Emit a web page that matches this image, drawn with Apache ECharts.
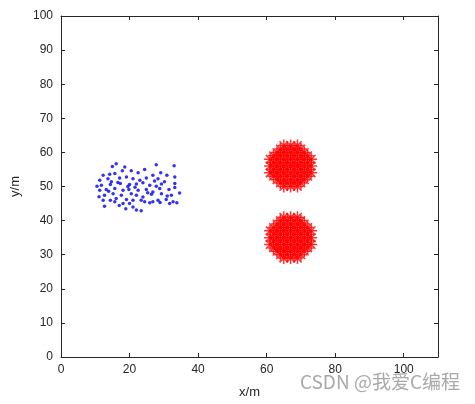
<!DOCTYPE html>
<html>
<head>
<meta charset="utf-8">
<script src="https://cdn.jsdelivr.net/npm/echarts@6/dist/echarts.min.js"></script>
<style>html,body{margin:0;padding:0;background:#fff;}#c{width:475px;height:404px;}</style>
</head>
<body>
<div id="c"></div>
<script>
// Axis settings
const xTicks = [0, 20, 40, 60, 80, 100];
const yTicks = [0, 10, 20, 30, 40, 50, 60, 70, 80, 90, 100];

// Blue points (x, y)
const blueX = [16.1,15.0,18.6,27.8,33.0,12.3,14.2,15.7,17.9,20.5,22.5,24.4,26.8,29.1,30.9,33.2,11.3,13.7,17.1,19.1,21.0,23.0,24.9,28.3,30.2,11.8,14.7,14.4,17.3,20.0,22.0,23.9,25.9,27.8,29.3,33.2,11.3,13.2,15.7,18.1,19.8,22.5,24.9,26.8,28.8,31.5,33.2,12.7,15.2,17.6,20.5,22.0,23.9,26.4,29.3,32.2,34.6,12.3,14.4,16.1,19.1,21.0,23.4,24.4,26.8,28.3,30.7,32.7,15.7,18.1,20.0,12.7,18.9,21.0,22.0,23.4,25.9,31.7,33.8,10.5,11.1,16.6,19.5,25.3,27.3,31.0,13.9,21.6,28.9,17.0];
const blueY = [56.7,55.9,55.7,56.4,56.1,53.3,53.6,53.8,54.6,54.6,54.0,55.0,53.3,54.0,53.3,52.8,51.8,52.3,52.5,52.8,52.3,51.8,52.5,52.3,51.4,50.4,51.4,50.6,50.9,50.6,50.7,51.1,50.4,50.1,50.7,50.9,48.9,49.1,49.4,48.9,49.1,48.9,49.1,48.4,49.4,49.1,49.7,47.4,47.9,47.4,47.9,47.4,46.9,47.7,47.9,47.4,48.1,46.0,46.0,46.5,46.2,46.0,46.0,45.5,45.5,46.0,46.2,45.5,45.5,45.0,45.0,44.2,43.5,44.0,43.1,42.9,45.2,45.0,45.2,50.1,47.0,51.2,50.0,48.2,51.6,47.2,48.6,49.8,45.3,44.4];

// Red cluster A (upper) points
const redAX = [61,61,61,63,63,63,63,63,65,65,65,65,65,65,65,67,67,67,67,67,67,67,69,69,69,69,69,69,69,71,71,71,71,71,73,73,73,
  62,62,62,62,64,64,64,64,64,64,66,66,66,66,66,66,68,68,68,68,68,68,70,70,70,70,70,70,72,72,72,72];
const redAY = [54,56,58,52,54,56,58,60,50,52,54,56,58,60,62,50,52,54,56,58,60,62,50,52,54,56,58,60,62,52,54,56,58,60,54,56,58,
  53,55,57,59,51,53,55,57,59,61,51,53,55,57,59,61,51,53,55,57,59,61,51,53,55,57,59,61,53,55,57,59];
// Red cluster B (lower) points
const redBX = [61,61,61,63,63,63,63,63,65,65,65,65,65,65,65,67,67,67,67,67,67,67,69,69,69,69,69,69,69,71,71,71,71,71,73,73,73,
  62,62,62,62,64,64,64,64,64,64,66,66,66,66,66,66,68,68,68,68,68,68,70,70,70,70,70,70,72,72,72,72];
const redBY = [33,35,37,31,33,35,37,39,29,31,33,35,37,39,41,29,31,33,35,37,39,41,29,31,33,35,37,39,41,31,33,35,37,39,33,35,37,
  32,34,36,38,30,32,34,36,38,40,30,32,34,36,38,40,30,32,34,36,38,40,30,32,34,36,38,40,32,34,36,38];

const zip = (a, b) => a.map((v, i) => [v, b[i]]);
const star = 'path://M0,-10L0,10M-10,0L10,0M-7.07,-7.07L7.07,7.07M-7.07,7.07L7.07,-7.07';
const font = 'Liberation Sans, Arial, Helvetica, sans-serif';
const axisCommon = {
  min: 0,
  axisLine: { show: true, onZero: false, lineStyle: { color: '#262626', width: 1 } },
  axisTick: { show: true, inside: true, length: 4, lineStyle: { color: '#262626', width: 1 } },
  splitLine: { show: false }
};
const redStyle = { color: 'rgba(0,0,0,0)', borderColor: '#ff0000', borderWidth: 1.5 };
const chart = echarts.init(document.getElementById('c'), null, { renderer: 'canvas' });
chart.setOption({
  animation: false,
  backgroundColor: '#ffffff',
  grid: { left: 61, right: 37, top: 16, bottom: 47 },
  xAxis: [
    Object.assign({}, axisCommon, {
      type: 'value', position: 'bottom', max: 110, interval: 20,
      name: 'x/m', nameLocation: 'middle', nameGap: 29,
      nameTextStyle: { color: '#262626', fontSize: 13, fontFamily: font },
      axisLabel: { color: '#262626', fontSize: 12, fontFamily: font, margin: 7,
        formatter: v => xTicks.indexOf(v) >= 0 ? String(v) : '' }
    }),
    Object.assign({}, axisCommon, {
      type: 'value', position: 'top', max: 110, interval: 20,
      axisLabel: { show: false }
    })
  ],
  yAxis: [
    Object.assign({}, axisCommon, {
      type: 'value', position: 'left', max: 100, interval: 10,
      name: 'y/m', nameLocation: 'middle', nameGap: 33, nameRotate: 90,
      nameTextStyle: { color: '#262626', fontSize: 13, fontFamily: font },
      axisLabel: { color: '#262626', fontSize: 12, fontFamily: font, margin: 8,
        formatter: v => yTicks.indexOf(v) >= 0 ? String(v) : '' }
    }),
    Object.assign({}, axisCommon, {
      type: 'value', position: 'right', max: 100, interval: 10,
      axisLabel: { show: false }
    })
  ],
  series: [
    {
      type: 'scatter', data: zip(blueX, blueY), symbol: 'circle', symbolSize: 3.5,
      itemStyle: { color: '#0000ee' }
    },
    {
      type: 'scatter', data: zip(redAX, redAY), symbol: star, symbolSize: 12,
      itemStyle: redStyle
    },
    {
      type: 'scatter', data: zip(redBX, redBY), symbol: star, symbolSize: 12,
      itemStyle: redStyle
    }
  ],
  graphic: [{
    type: 'text', right: 15, top: 372,
    style: { text: 'CSDN @我爱C编程', fill: 'rgba(160,160,160,0.9)', fontSize: 19,
      fontFamily: 'Noto Sans CJK SC, sans-serif' }
  }]
});
</script>
</body>
</html>
